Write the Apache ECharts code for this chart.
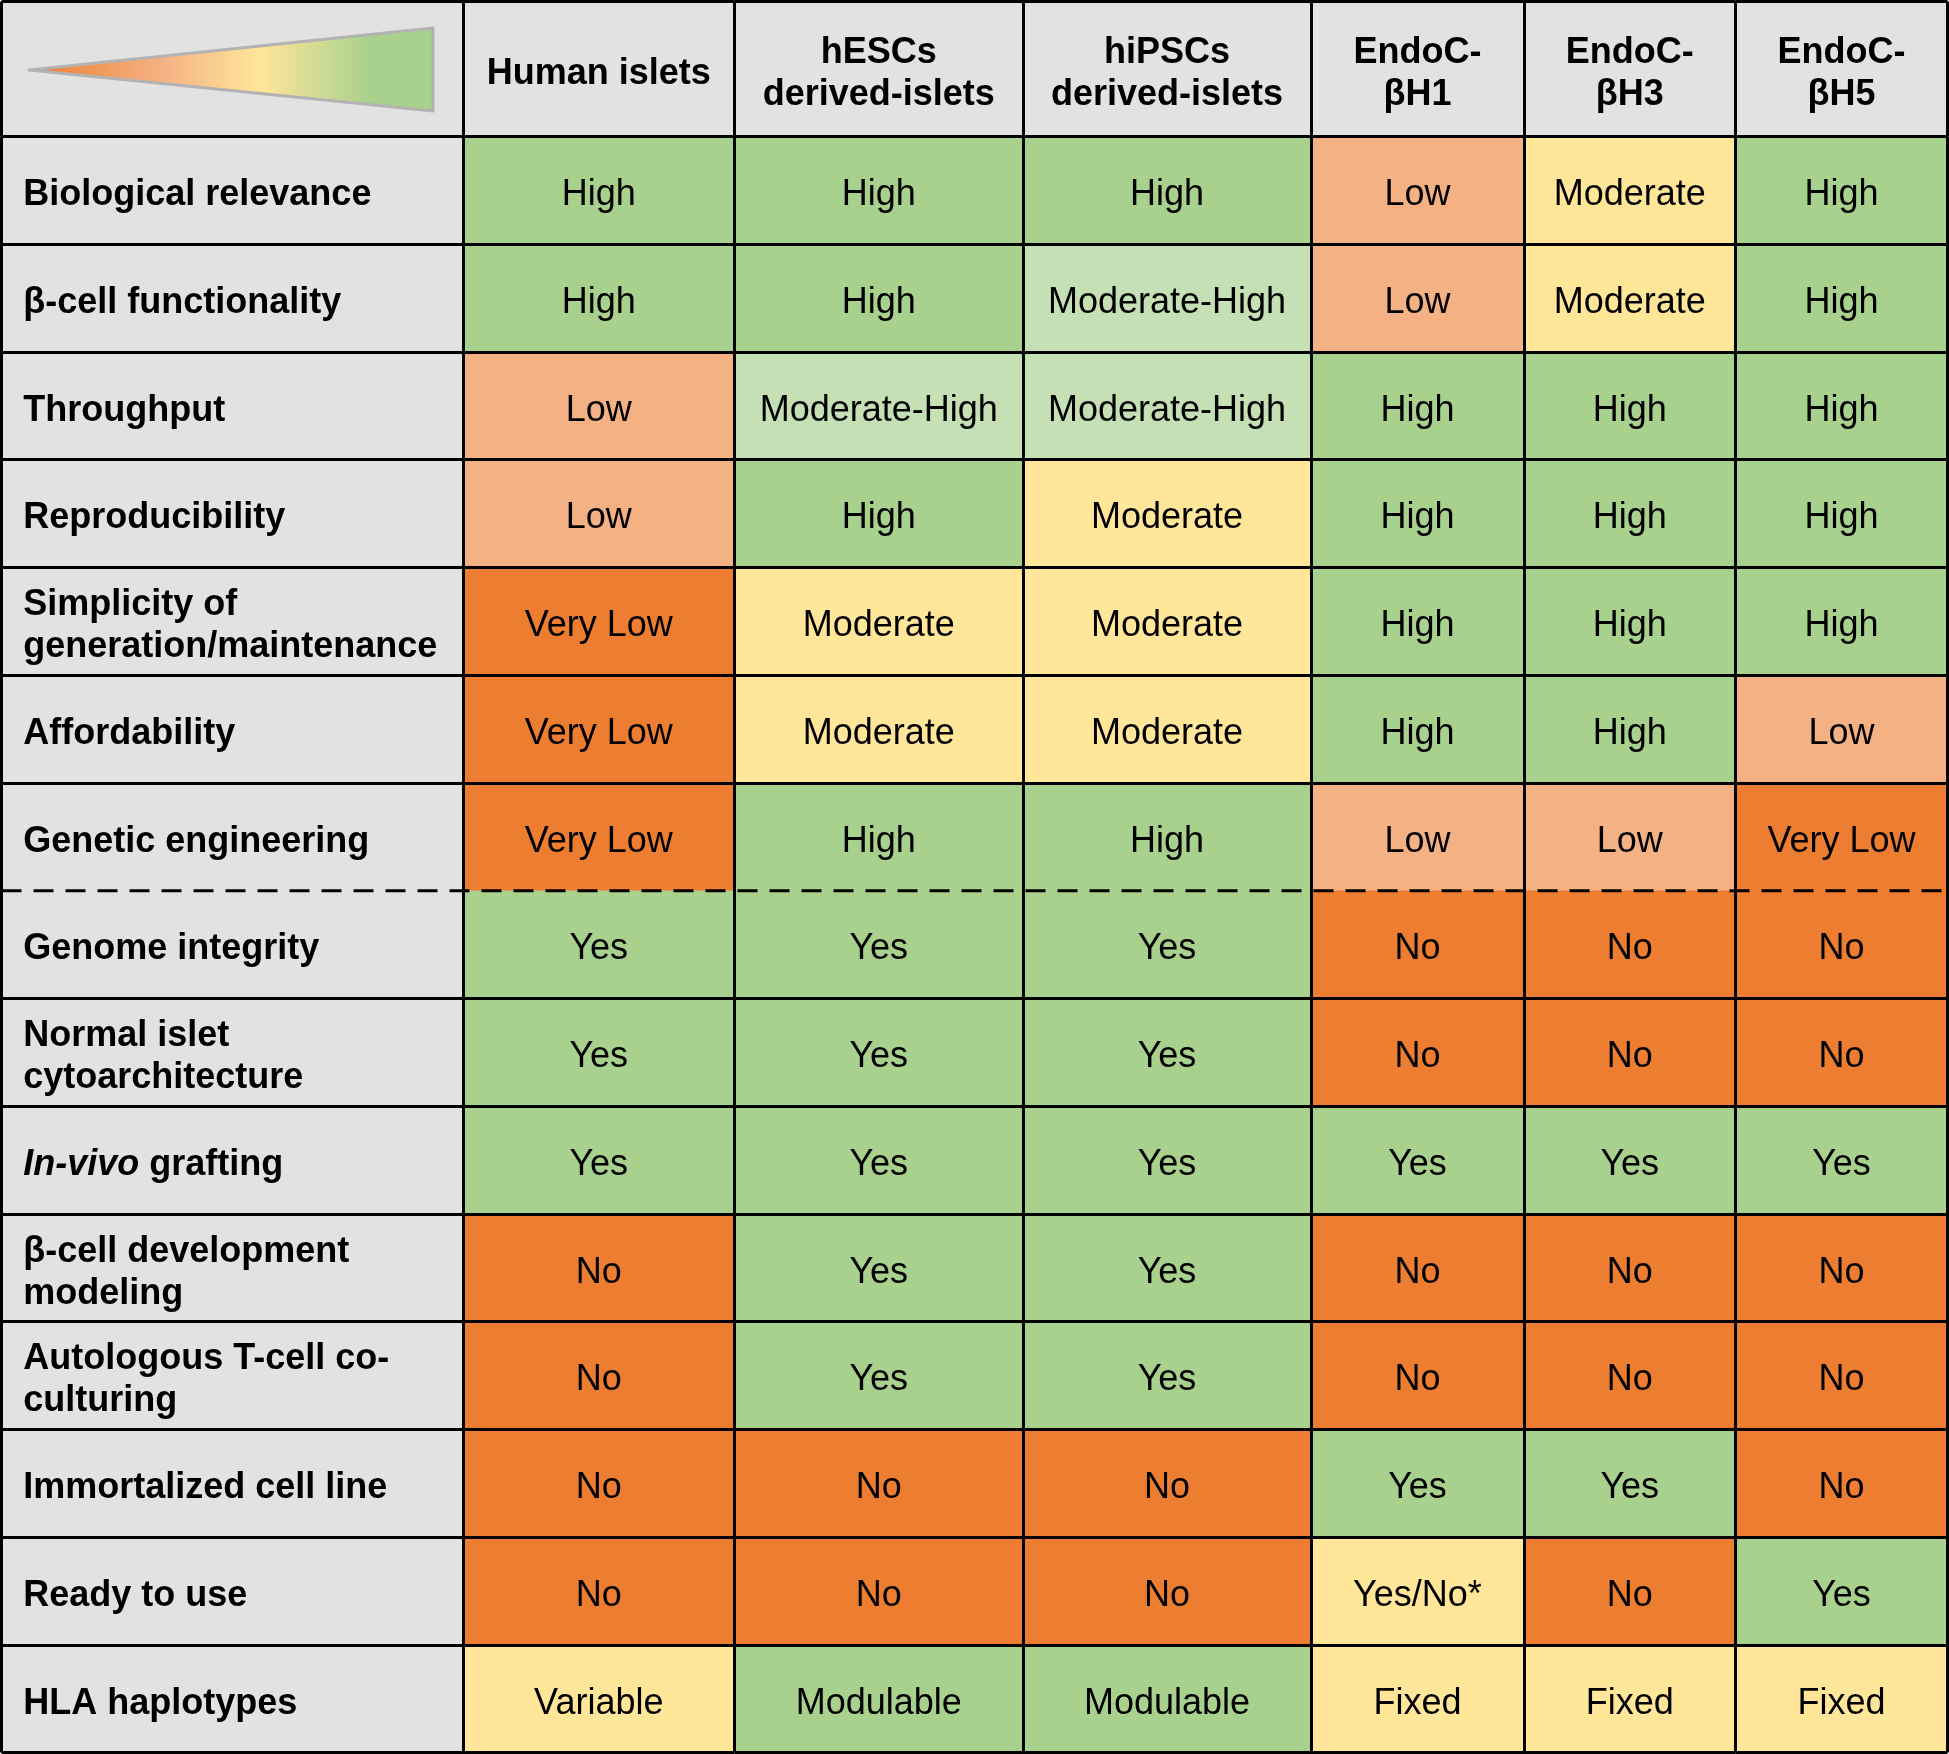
<!DOCTYPE html>
<html><head><meta charset="utf-8">
<script src="https://cdn.jsdelivr.net/npm/echarts@6/dist/echarts.min.js"></script>
<style>html,body{margin:0;padding:0;background:#fff}#c{width:1949px;height:1754px}</style>
</head><body><div id="c"></div>
<script>
// ---------------- data ----------------
const models = ['Human islets', 'hESCs\nderived-islets', 'hiPSCs\nderived-islets', 'EndoC-\nβH1', 'EndoC-\nβH3', 'EndoC-\nβH5'];
const criteria = ['Biological relevance', 'β-cell functionality', 'Throughput', 'Reproducibility',
  'Simplicity of\ngeneration/maintenance', 'Affordability', 'Genetic engineering', 'Genome integrity',
  'Normal islet\ncytoarchitecture', 'In-vivo grafting', 'β-cell development\nmodeling',
  'Autologous T-cell co-\nculturing', 'Immortalized cell line', 'Ready to use', 'HLA haplotypes'];
const humanIslets = ['High', 'High', 'Low', 'Low', 'Very Low', 'Very Low', 'Very Low', 'Yes', 'Yes', 'Yes', 'No', 'No', 'No', 'No', 'Variable'];
const hescIslets  = ['High', 'High', 'Moderate-High', 'High', 'Moderate', 'Moderate', 'High', 'Yes', 'Yes', 'Yes', 'Yes', 'Yes', 'No', 'No', 'Modulable'];
const hipscIslets = ['High', 'Moderate-High', 'Moderate-High', 'Moderate', 'Moderate', 'Moderate', 'High', 'Yes', 'Yes', 'Yes', 'Yes', 'Yes', 'No', 'No', 'Modulable'];
const endocBH1    = ['Low', 'Low', 'High', 'High', 'High', 'High', 'Low', 'No', 'No', 'Yes', 'No', 'No', 'Yes', 'Yes/No*', 'Fixed'];
const endocBH3    = ['Moderate', 'Moderate', 'High', 'High', 'High', 'High', 'Low', 'No', 'No', 'Yes', 'No', 'No', 'Yes', 'No', 'Fixed'];
const endocBH5    = ['High', 'High', 'High', 'High', 'High', 'Low', 'Very Low', 'No', 'No', 'Yes', 'No', 'No', 'No', 'Yes', 'Fixed'];
const ratingLevel = { 'Very Low': 0, 'No': 0, 'Low': 1, 'Moderate': 2, 'Variable': 2, 'Fixed': 2, 'Yes/No*': 2, 'Moderate-High': 3, 'High': 4, 'Yes': 4, 'Modulable': 4 };
const dashedBefore = 'Genome integrity';

// ---------------- styles / layout ----------------
const levelColors = ['#ed7d31', '#f4b183', '#ffe699', '#c5e0b4', '#a9d18e'];
const GRAY = '#e2e2e2';
const FONT = "'Liberation Sans', Arial, Helvetica, sans-serif";
const FS = 36;
const TXT_OFF = [0, 5];
const colEdges = [1.5, 463, 734.5, 1023, 1311, 1524, 1735.5, 1947.5];
const headerTop = 1.5, headerBottom = 136.5, bodyBottom = 1752.5;

const columns = [humanIslets, hescIslets, hipscIslets, endocBH1, endocBH3, endocBH5];

const chart = echarts.init(document.getElementById('c'), null, { renderer: 'canvas' });

const grids = [], xAxes = [], yAxes = [], series = [];
const lineSty = { color: '#000', width: 3 };
function axisPair(gi, ycats, intervalFn) {
  xAxes.push({ type: 'category', gridIndex: gi, data: ['c'], z: 10,
    axisLine: { show: false }, axisTick: { show: false }, axisLabel: { show: false },
    splitLine: { show: true, lineStyle: lineSty } });
  yAxes.push({ type: 'category', gridIndex: gi, data: ycats, inverse: true, z: 10,
    axisLine: { show: false }, axisTick: { show: false }, axisLabel: { show: false },
    splitLine: { show: true, interval: intervalFn || 0, lineStyle: lineSty } });
}
const dashIdx = criteria.indexOf(dashedBefore);

for (let c = 0; c < 7; c++) {
  const left = colEdges[c], width = colEdges[c + 1] - colEdges[c];
  // header grid
  const hg = grids.length;
  grids.push({ left: left, width: width, top: headerTop, height: headerBottom - headerTop });
  axisPair(hg, ['h']);
  series.push({
    type: 'heatmap', xAxisIndex: hg, yAxisIndex: hg, z: 2,
    data: [{ value: [0, 0, 0], name: c === 0 ? '' : models[c - 1], itemStyle: { color: GRAY } }],
    label: { show: true, formatter: p => p.name, color: '#000', fontFamily: FONT, fontSize: FS,
      fontWeight: 'bold', lineHeight: 42, align: 'center', offset: TXT_OFF },
    emphasis: { disabled: true }, silent: true
  });
  // body grid
  const bg = grids.length;
  grids.push({ left: left, width: width, top: headerBottom, height: bodyBottom - headerBottom });
  axisPair(bg, criteria, (i) => i !== dashIdx);
  let data;
  if (c === 0) {
    data = criteria.map((name, i) => ({ value: [0, i, -1], name: name, itemStyle: { color: GRAY } }));
  } else {
    data = columns[c - 1].map((r, i) => ({ value: [0, i, ratingLevel[r]], name: r, itemStyle: { color: levelColors[ratingLevel[r]] } }));
  }
  series.push({
    type: 'heatmap', xAxisIndex: bg, yAxisIndex: bg, z: 2, data: data,
    label: c === 0 ? {
      show: true, position: 'insideLeft', distance: 22, offset: TXT_OFF,
      formatter: p => p.name.indexOf('In-vivo') === 0 ? '{it|In-vivo}{bd|' + p.name.slice(7) + '}' : p.name,
      color: '#000', fontFamily: FONT, fontSize: FS, fontWeight: 'bold', lineHeight: 42,
      rich: {
        it: { fontStyle: 'italic', fontWeight: 'bold', fontFamily: FONT, fontSize: FS, color: '#000' },
        bd: { fontWeight: 'bold', fontFamily: FONT, fontSize: FS, color: '#000' }
      }
    } : {
      show: true, formatter: p => p.name, color: '#000', fontFamily: FONT, fontSize: FS, fontWeight: 'normal', offset: TXT_OFF
    },
    emphasis: { disabled: true }, silent: true
  });
}

const triangle = {
  id: 'tri', type: 'polygon', z: 50,
  shape: { points: [[29, 70], [433, 28], [433, 111]] },
  style: {
    fill: new echarts.graphic.LinearGradient(0, 0, 1, 0, [
      { offset: 0, color: '#ed7d31' },
      { offset: 0.33, color: '#f4b183' },
      { offset: 0.57, color: '#ffe699' },
      { offset: 0.84, color: '#a9d18e' },
      { offset: 1, color: '#a9d18e' }
    ]),
    stroke: '#b3b3b3', lineWidth: 3, lineJoin: 'round'
  }
};

chart.setOption({
  animation: false,
  backgroundColor: '#fff',
  grid: grids, xAxis: xAxes, yAxis: yAxes, series: series,
  graphic: [triangle]
});

// dashed separator at boundary before "Genome integrity", positioned through the axis scale
const p1 = chart.convertToPixel({ gridIndex: 1 }, [0, dashIdx - 1]);
const p2 = chart.convertToPixel({ gridIndex: 1 }, [0, dashIdx]);
const yb = (p1[1] + p2[1]) / 2;
chart.setOption({
  graphic: [triangle, {
    id: 'dash', type: 'line', z: 60,
    shape: { x1: colEdges[0], y1: yb, x2: colEdges[colEdges.length - 1], y2: yb },
    style: { stroke: '#000', lineWidth: 3, lineDash: [20, 12] }
  }]
});
</script></body></html>
